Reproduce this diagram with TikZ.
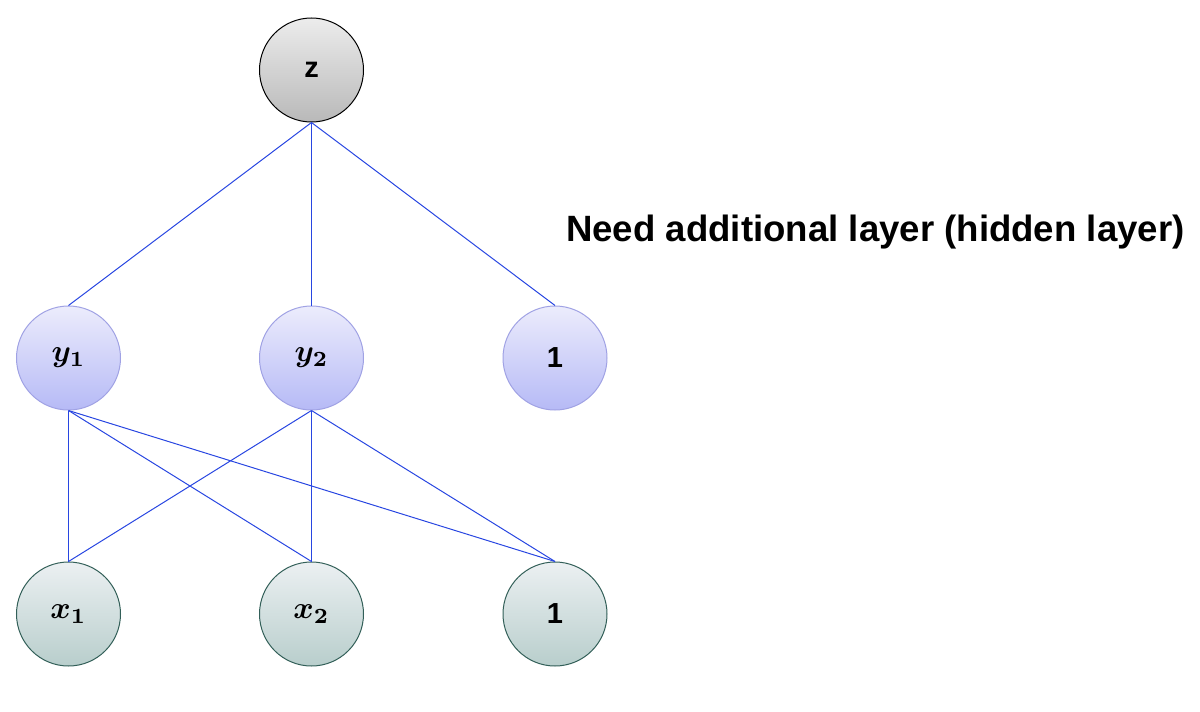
\documentclass[tikz,border=0pt]{standalone}
\usepackage{amsmath}
\usepackage{bm}
\usepackage{graphicx}
\usepackage{fontspec}
\newfontfamily\lsans{Liberation Sans}
\definecolor{edgeblue}{RGB}{40,70,225}
\definecolor{ztop}{RGB}{236,236,236}
\definecolor{zbot}{RGB}{185,185,185}
\definecolor{ytop}{RGB}{236,236,252}
\definecolor{ybot}{RGB}{182,186,246}
\definecolor{ydraw}{RGB}{160,162,228}
\definecolor{xtop}{RGB}{236,240,242}
\definecolor{xbot}{RGB}{184,206,204}
\definecolor{xdraw}{RGB}{50,95,88}
\newcommand{\mlab}[1]{\scalebox{3.1}{$\bm{#1}$}}
\begin{document}
\begin{tikzpicture}[x=1pt,y=-1pt,
  neuron/.style={circle,minimum size=104pt,inner sep=0pt,line width=1pt},
  zneuron/.style={neuron,draw=black,top color=ztop,bottom color=zbot},
  yneuron/.style={neuron,draw=ydraw,top color=ytop,bottom color=ybot},
  xneuron/.style={neuron,draw=xdraw,top color=xtop,bottom color=xbot},
  link/.style={draw=edgeblue,line width=1pt},
  lab/.style={font=\lsans\bfseries\fontsize{29}{32}\selectfont}]
\useasboundingbox (0,0) rectangle (1200,712);
\node[zneuron,lab] (z) at (311.5,70) {z};
\node[yneuron] (y1) at (68.5,358) {\mlab{y_1}};
\node[yneuron] (y2) at (311.5,358) {\mlab{y_2}};
\node[yneuron,lab] (yb) at (555,358) {1};
\node[xneuron] (x1) at (68.5,614) {\mlab{x_1}};
\node[xneuron] (x2) at (311.5,614) {\mlab{x_2}};
\node[xneuron,lab] (xb) at (555,614) {1};
\foreach \t in {y1,y2,yb} \draw[link] (z.south) -- (\t.north);
\foreach \s in {y1,y2} \foreach \t in {x1,x2,xb} \draw[link] (\s.south) -- (\t.north);
\node[anchor=west,inner sep=0pt,font=\lsans\bfseries\fontsize{36.6}{40}\selectfont] (note) at (566,232) {Need additional layer (hidden layer)};
\end{tikzpicture}
\end{document}
